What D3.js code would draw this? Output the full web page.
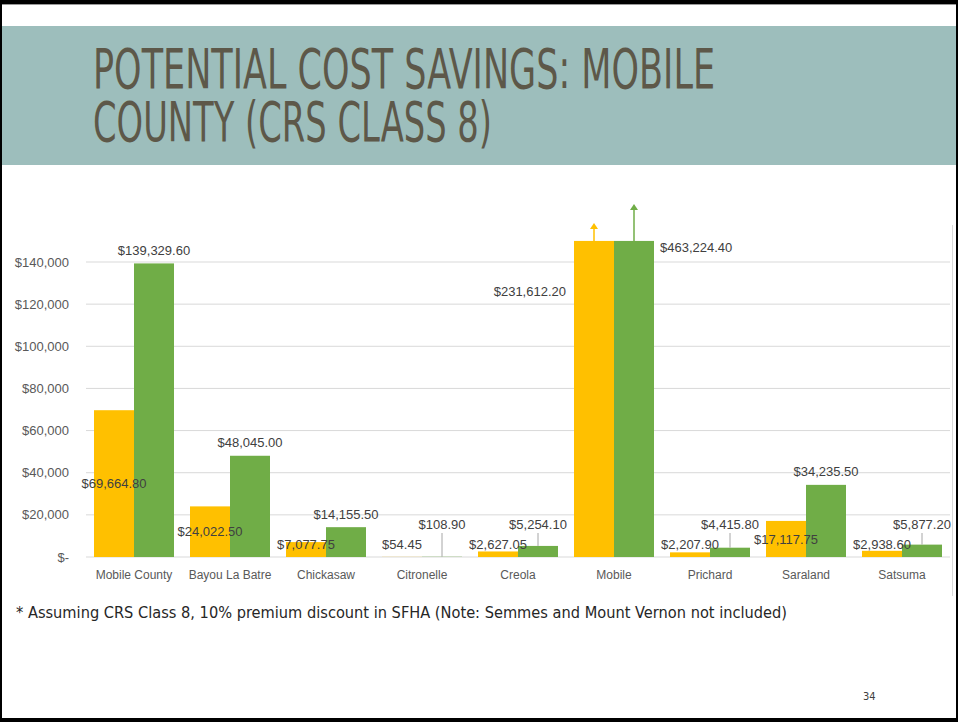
<!DOCTYPE html>
<meta charset="utf-8">
<style>
body { margin: 0; background: #fff; }
svg { display: block; }
.tick-y { font: 13px "Liberation Sans", Arial, sans-serif; fill: #595959; }
.tick-x { font: 12px "Liberation Sans", Arial, sans-serif; fill: #595959; }
.lbl { font: 13px "Liberation Sans", Arial, sans-serif; fill: #404040; }
</style>
<body>
<script src="https://d3js.org/d3.v7.min.js"></script>
<script>

// values
var categories = ["Mobile County", "Bayou La Batre", "Chickasaw", "Citronelle", "Creola",
                  "Mobile", "Prichard", "Saraland", "Satsuma"];
var yellowVals = [69664.80, 24022.50, 7077.75, 54.45, 2627.05, 231612.20, 2207.90, 17117.75, 2938.60];
var greenVals  = [139329.60, 48045.00, 14155.50, 108.90, 5254.10, 463224.40, 4415.80, 34235.50, 5877.20];
var yTicks = [0, 20000, 40000, 60000, 80000, 100000, 120000, 140000];
var axisCap = 150000;   // bars above this are cut off and get an arrow

var titleLines = ["POTENTIAL COST SAVINGS: MOBILE", "COUNTY (CRS CLASS 8)"];
var footnote = "* Assuming CRS Class 8, 10% premium discount in SFHA (Note: Semmes and Mount Vernon not included)";

var W = 958, H = 722;
var yellow = "#ffc000", green = "#70ad47";

var svg = d3.select("body").append("svg")
    .attr("width", W)
    .attr("height", H);

// slide frame
svg.append("rect").attr("x", 0).attr("y", 0).attr("width", W).attr("height", H).attr("fill", "#fff");

// title band
svg.append("rect")
    .attr("x", 0).attr("y", 26)
    .attr("width", W).attr("height", 139)
    .attr("fill", "#9dbebc");

var titleWidths = [622, 399];
svg.selectAll(".title")
    .data(titleLines)
  .enter().append("text")
    .attr("class", "title")
    .attr("x", 93)
    .attr("y", function(d, i) { return 88 + i * 53; })
    .attr("textLength", function(d, i) { return titleWidths[i]; })
    .attr("lengthAdjust", "spacingAndGlyphs")
    .style("font", "56px 'Liberation Sans Narrow', 'DejaVu Sans Condensed', sans-serif")
    .style("fill", "#5d5849")
    .text(function(d) { return d; });

// chart
var x = d3.scaleBand()
    .domain(categories)
    .range([86, 950])
    .padding(0);

var xs = d3.scaleBand()
    .domain(["y", "g"])
    .range([8, 88]);

var y = d3.scaleLinear()
    .domain([0, 140000])
    .range([557, 262]);

var chart = svg.append("g");

chart.selectAll(".grid")
    .data(yTicks)
  .enter().append("line")
    .attr("x1", 86).attr("x2", 950)
    .attr("y1", function(d) { return y(d); })
    .attr("y2", function(d) { return y(d); })
    .attr("stroke", "#d9d9d9")
    .attr("stroke-width", 1);

chart.selectAll(".tick-y")
    .data(yTicks)
  .enter().append("text")
    .attr("class", "tick-y")
    .attr("x", 69)
    .attr("y", function(d) { return y(d); })
    .attr("dy", "0.35em")
    .attr("text-anchor", "end")
    .text(function(d) { return d === 0 ? "$-" : d3.format("$,")(d); });

chart.selectAll(".tick-x")
    .data(categories)
  .enter().append("text")
    .attr("class", "tick-x")
    .attr("x", function(d) { return x(d) + x.bandwidth() / 2; })
    .attr("y", 575)
    .attr("dy", "0.35em")
    .attr("text-anchor", "middle")
    .text(function(d) { return d; });

var rows = categories.map(function(c, i) {
    return {cat: c, yv: yellowVals[i], gv: greenVals[i]};
});

function barTop(v) { return y(Math.min(v, axisCap)); }

var g = chart.selectAll(".cat")
    .data(rows)
  .enter().append("g")
    .attr("transform", function(d) { return "translate(" + x(d.cat) + ",0)"; });

g.append("rect")
    .attr("x", xs("y"))
    .attr("width", xs.bandwidth())
    .attr("y", function(d) { return barTop(d.yv); })
    .attr("height", function(d) { return y(0) - barTop(d.yv); })
    .attr("fill", yellow);

g.append("rect")
    .attr("x", xs("g"))
    .attr("width", xs.bandwidth())
    .attr("y", function(d) { return barTop(d.gv); })
    .attr("height", function(d) { return y(0) - barTop(d.gv); })
    .attr("fill", green);

var money = d3.format("$,.2f");

// labels for bars that fit
var fit = g.filter(function(d) { return d.gv <= axisCap; });

function yellowLabelY(d) { return Math.min(y(d.yv / 2), 544); }
function greenLabelY(d) { return Math.min(y(d.gv) - 13, yellowLabelY(d) - 20); }

fit.append("text")
    .attr("class", "lbl")
    .attr("x", xs("y") + xs.bandwidth() / 2)
    .attr("y", yellowLabelY)
    .attr("dy", "0.35em")
    .attr("text-anchor", "middle")
    .text(function(d) { return money(d.yv); });

// leader lines where the green label was lifted
fit.filter(function(d) { return y(d.gv) - 13 > greenLabelY(d) + 2; })
  .append("line")
    .attr("x1", xs("g") + xs.bandwidth() / 2)
    .attr("x2", xs("g") + xs.bandwidth() / 2)
    .attr("y1", function(d) { return y(d.gv); })
    .attr("y2", function(d) { return greenLabelY(d) + 9; })
    .attr("stroke", "#a6a6a6")
    .attr("stroke-width", 1);

fit.append("text")
    .attr("class", "lbl")
    .attr("x", xs("g") + xs.bandwidth() / 2)
    .attr("y", greenLabelY)
    .attr("dy", "0.35em")
    .attr("text-anchor", "middle")
    .text(function(d) { return money(d.gv); });

// the cut-off Mobile bars
var big = g.filter(function(d) { return d.gv > axisCap; });

big.append("text")
    .attr("class", "lbl")
    .attr("x", xs("y") - 8)
    .attr("y", y(axisCap) + 51)
    .attr("dy", "0.35em")
    .attr("text-anchor", "end")
    .text(function(d) { return money(d.yv); });

big.append("text")
    .attr("class", "lbl")
    .attr("x", xs("g") + xs.bandwidth() + 6)
    .attr("y", y(axisCap) + 7)
    .attr("dy", "0.35em")
    .text(function(d) { return money(d.gv); });

function arrow(sel, cx, len, color) {
    var top = y(axisCap) - len;
    sel.append("line")
        .attr("x1", cx).attr("x2", cx)
        .attr("y1", y(axisCap)).attr("y2", top + 5)
        .attr("stroke", color).attr("stroke-width", 1.5);
    sel.append("path")
        .attr("d", "M" + (cx - 4) + "," + (top + 6) + "L" + cx + "," + top + "L" + (cx + 4) + "," + (top + 6) + "Z")
        .attr("fill", color);
}
arrow(big, xs("y") + xs.bandwidth() / 2, 18, yellow);
arrow(big, xs("g") + xs.bandwidth() / 2, 37, green);

// chart object edge
svg.append("line")
    .attr("x1", 952.5).attr("x2", 952.5)
    .attr("y1", 225).attr("y2", 596)
    .attr("stroke", "#d9d9d9");

// footnote and page number
svg.append("text")
    .attr("x", 16).attr("y", 618)
    .attr("textLength", 771)
    .attr("lengthAdjust", "spacingAndGlyphs")
    .style("font", "16px 'DejaVu Sans', sans-serif")
    .style("fill", "#262626")
    .text(footnote);

svg.append("text")
    .attr("x", 863).attr("y", 700)
    .style("font", "11px 'Liberation Sans Narrow', 'DejaVu Sans Condensed', sans-serif")
    .style("fill", "#404040")
    .text("34");

// black border
svg.append("rect").attr("x", 0).attr("y", 0).attr("width", W).attr("height", 4).attr("fill", "#000");
svg.append("rect").attr("x", 0).attr("y", 4).attr("width", W).attr("height", 1).attr("fill", "#999");
svg.append("rect").attr("x", 0).attr("y", 718).attr("width", W).attr("height", 4).attr("fill", "#000");
svg.append("rect").attr("x", 0).attr("y", 0).attr("width", 2).attr("height", H).attr("fill", "#000");
svg.append("rect").attr("x", 956).attr("y", 0).attr("width", 2).attr("height", H).attr("fill", "#000");

</script>
